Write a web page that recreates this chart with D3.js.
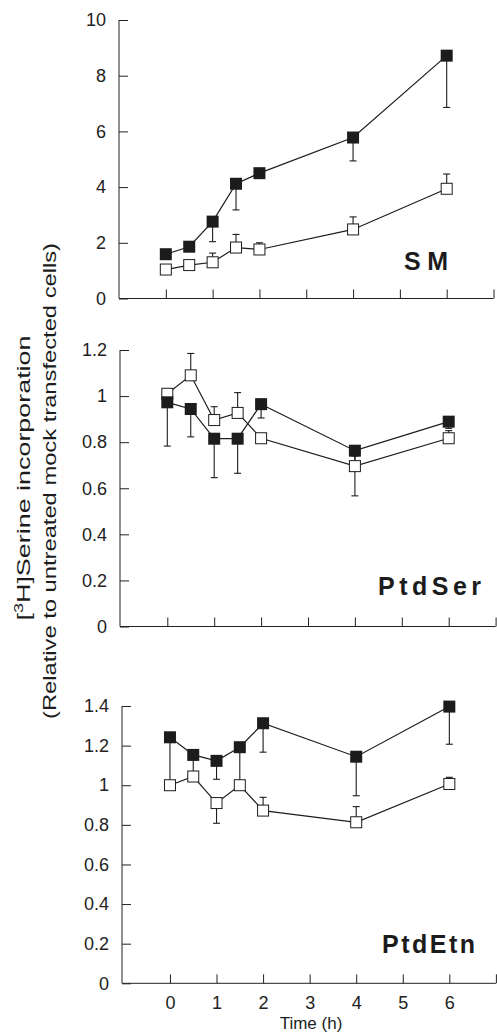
<!DOCTYPE html>
<html>
<head>
<meta charset="utf-8">
<script src="https://cdn.jsdelivr.net/npm/d3@7"></script>
<style>
  body { margin: 0; background: #fff; }
  svg { display: block; font-family: "Liberation Sans", Arial, Helvetica, sans-serif; }
  .axis path, .axis line { stroke: #222; stroke-width: 1; }
  .axis text { font-size: 18px; fill: #222; }
</style>
</head>
<body>
<div id="chart"></div>
<script>
// hours after treatment
const times = [0, 0.5, 1, 1.5, 2, 4, 6];
const xTicks = [0, 1, 2, 3, 4, 5, 6, 7];

// SM
const smTreated = [1.59, 1.86, 2.76, 4.12, 4.5, 5.78, 8.72];
const smTreatedErr = [null, null, 2.04, 3.18, null, 4.94, 6.86];
const smControl = [1.04, 1.2, 1.3, 1.83, 1.76, 2.48, 3.94];
const smControlErr = [null, 1.35, 1.63, 2.3, 2.0, 2.93, 4.47];
const smTicks = [0, 2, 4, 6, 8, 10];

// PtdSer
const serTreated = [0.973, 0.944, 0.815, 0.815, 0.965, 0.763, 0.889];
const serTreatedErr = [0.783, 0.823, 0.646, 0.665, 0.905, 0.567, 0.86];
const serControl = [1.01, 1.09, 0.896, 0.927, 0.817, 0.696, 0.817];
const serControlErr = [null, 1.185, 0.954, 1.015, null, 0.74, 0.85];
const serTicks = [0, 0.2, 0.4, 0.6, 0.8, 1, 1.2];

// PtdEtn
const etnTreated = [1.242, 1.153, 1.123, 1.192, 1.313, 1.144, 1.397];
const etnTreatedErr = [1.0, 1.05, 1.03, 1.0, 1.167, 0.947, 1.207];
const etnControl = [1.0, 1.044, 0.91, 1.0, 0.872, 0.813, 1.006];
const etnControlErr = [null, null, 0.808, null, 0.939, 0.892, 1.04];
const etnTicks = [0, 0.2, 0.4, 0.6, 0.8, 1, 1.2, 1.4];

const panels = [
    { name: 'SM', ticks: smTicks, max: 10, axisX: 119, xr: [119, 493.5], top: 20, bottom: 298.5,
      treated: smTreated, treatedErr: smTreatedErr, control: smControl, controlErr: smControlErr,
      label: { x: 404, y: 270, len: 44 } },
    { name: 'PtdSer', ticks: serTicks, max: 1.2, axisX: 120, xr: [120.4, 495.6], top: 350, bottom: 626.5,
      treated: serTreated, treatedErr: serTreatedErr, control: serControl, controlErr: serControlErr,
      label: { x: 378, y: 595, len: 103 } },
    { name: 'PtdEtn', ticks: etnTicks, max: 1.4, axisX: 122, xr: [123.4, 495.9], top: 706, bottom: 983.3,
      treated: etnTreated, treatedErr: etnTreatedErr, control: etnControl, controlErr: etnControlErr,
      label: { x: 382, y: 953, len: 93 }, showX: true }
];

const W = 497, H = 1034;
const svg = d3.select('#chart').append('svg')
    .attr('width', W)
    .attr('height', H);

svg.append('rect').attr('width', W).attr('height', H).attr('fill', '#fff');

const ink = '#1c1c1c';

panels.forEach(p => {
    const x = d3.scaleLinear().domain([-1, 7]).range(p.xr);
    const y = d3.scaleLinear().domain([0, p.max]).range([p.bottom, p.top]);

    // y axis, ticks pointing inward
    svg.append('g')
        .attr('class', 'axis')
        .attr('transform', `translate(${p.axisX},0)`)
        .call(d3.axisLeft(y).tickValues(p.ticks).tickFormat(d => String(d))
            .tickSizeInner(-9).tickSizeOuter(0).tickPadding(13))
        .call(g => g.select('.domain').attr('d', `M0,${y(0)}V${y(p.max)}`));

    // x axis
    svg.append('g')
        .attr('class', 'axis')
        .attr('transform', `translate(0,${p.bottom})`)
        .call(d3.axisBottom(x).tickValues(xTicks)
            .tickFormat(p.showX ? (d => d === 7 ? '' : d) : '')
            .tickSizeInner(-9).tickSizeOuter(0).tickPadding(13))
        .call(g => g.select('.domain').attr('d', `M${p.axisX},0H${x(7)}`));

    const line = d3.line().x((d, i) => x(times[i])).y(d => y(d));

    // control (open) and treated (filled) lines
    [p.control, p.treated].forEach(vals => {
        svg.append('path')
            .attr('d', line(vals))
            .attr('fill', 'none')
            .attr('stroke', ink)
            .attr('stroke-width', 1.2);
    });

    // error bars
    const drawErr = (vals, errs) => {
        const e = svg.append('g').attr('stroke', ink).attr('stroke-width', 1.1);
        errs.forEach((end, i) => {
            if (end === null) return;
            const cx = x(times[i]);
            e.append('line').attr('x1', cx).attr('x2', cx)
                .attr('y1', y(vals[i])).attr('y2', y(end));
            e.append('line').attr('x1', cx - 3.5).attr('x2', cx + 3.5)
                .attr('y1', y(end)).attr('y2', y(end));
        });
    };
    drawErr(p.control, p.controlErr);
    drawErr(p.treated, p.treatedErr);

    // open squares
    svg.append('g').selectAll('rect')
        .data(p.control)
        .enter()
        .append('rect')
        .attr('x', (d, i) => x(times[i]) - 5.5)
        .attr('y', d => y(d) - 5.5)
        .attr('width', 11)
        .attr('height', 11)
        .attr('fill', '#fff')
        .attr('stroke', ink)
        .attr('stroke-width', 1);

    // filled squares
    svg.append('g').selectAll('rect')
        .data(p.treated)
        .enter()
        .append('rect')
        .attr('x', (d, i) => x(times[i]) - 6)
        .attr('y', d => y(d) - 6)
        .attr('width', 12)
        .attr('height', 12)
        .attr('fill', ink);

    svg.append('text')
        .attr('x', p.label.x)
        .attr('y', p.label.y)
        .attr('textLength', p.label.len)
        .attr('lengthAdjust', 'spacing')
        .style('font-size', '25px')
        .style('font-weight', 'bold')
        .attr('fill', ink)
        .text(p.name);
});

// x axis title
svg.append('text')
    .attr('x', 311)
    .attr('y', 1029)
    .attr('text-anchor', 'middle')
    .style('font-size', '17px')
    .attr('fill', ink)
    .text('Time (h)');

// y axis title, two rotated lines
const t1 = svg.append('text')
    .attr('transform', 'translate(30,478) rotate(-90)')
    .attr('text-anchor', 'middle')
    .attr('textLength', 285)
    .attr('lengthAdjust', 'spacingAndGlyphs')
    .style('font-size', '18px')
    .attr('fill', ink);
t1.append('tspan').text('[');
t1.append('tspan').attr('baseline-shift', 'super').style('font-size', '12px').text('3');
t1.append('tspan').text('H]Serine  incorporation');

svg.append('text')
    .attr('transform', 'translate(56,481) rotate(-90)')
    .attr('text-anchor', 'middle')
    .attr('textLength', 476)
    .attr('lengthAdjust', 'spacingAndGlyphs')
    .style('font-size', '18px')
    .attr('fill', ink)
    .text('(Relative  to  untreated  mock  transfected  cells)');
</script>
</body>
</html>
